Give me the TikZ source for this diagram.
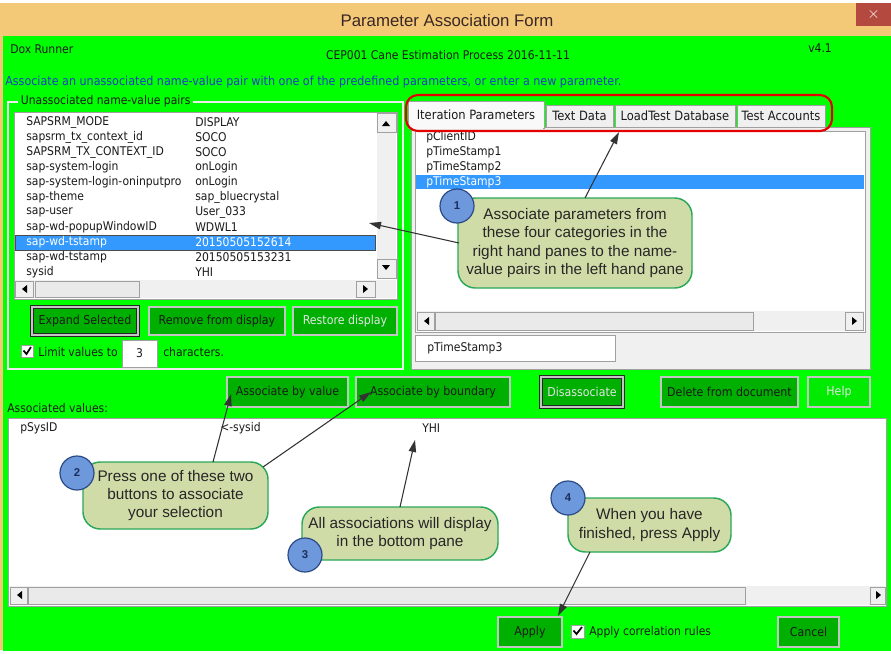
\documentclass[tikz,border=0pt]{standalone}
\usepackage{fontspec}
\setmainfont{Liberation Sans}
\newfontfamily\uif{DejaVu Sans Condensed}
\usetikzlibrary{arrows.meta}
\definecolor{titlebar}{HTML}{F3C977}
\definecolor{titletext}{HTML}{3A2626}
\definecolor{closered}{HTML}{B3493F}
\definecolor{formgreen}{HTML}{00FF00}
\definecolor{btngreen}{HTML}{00B000}
\definecolor{btnedge}{HTML}{C4C4C4}
\definecolor{uitext}{HTML}{1A1A1A}
\definecolor{infoblue}{HTML}{1E3CC8}
\definecolor{selblue}{HTML}{3399FF}
\definecolor{panelgray}{HTML}{F0F0F0}
\definecolor{edgegray}{HTML}{A0A0A0}
\definecolor{thumbgray}{HTML}{DCDCDC}
\definecolor{calloutfill}{HTML}{D0DCA8}
\definecolor{calloutedge}{HTML}{2BA85A}
\definecolor{numfill}{HTML}{6E98DC}
\definecolor{numedge}{HTML}{2C4A86}
\definecolor{numtext}{HTML}{1C2F5C}
\definecolor{disabledtext}{HTML}{E4E4E4}
\begin{document}
\begin{tikzpicture}[x=0.75pt,y=-0.75pt,
  wh/.style 2 args={minimum width={(#1)*0.75pt}, minimum height={(#2)*0.75pt}},
  ui/.style={font=\uif\fontsize{9}{11}\selectfont, text=uitext, inner sep=0pt, anchor=west},
  btn/.style={draw=btnedge, fill=btngreen, line width=1.1pt, inner sep=0pt,
    font=\uif\fontsize{9.2}{11}\selectfont, text=uitext},
  btnfocus/.style={btn, draw=black!85, double=btnedge, line width=0.7pt, double distance=0.9pt},
  dis/.style={text=disabledtext},
  tabbox/.style={draw=edgegray, fill=panelgray, line width=0.6pt, inner sep=0pt,
    font=\uif\fontsize{9.6}{11}\selectfont, text=uitext},
  whitebox/.style={draw=edgegray, fill=white, line width=0.6pt, inner sep=0pt},
  sbtrack/.style={fill=panelgray},
  sbbtn/.style={draw=edgegray, fill=panelgray, line width=0.5pt},
  sbthumb/.style={draw=edgegray, fill=thumbgray!60!white, line width=0.5pt},
  callout/.style={draw=calloutedge, fill=calloutfill, rounded corners=13pt, line width=1.1pt,
    inner sep=0pt, align=center, font=\fontsize{11.5}{13.75}\selectfont, text=black!85},
  num/.style={circle, draw=numedge, fill=numfill, line width=0.9pt, minimum size=25.5pt,
    inner sep=0pt, font=\fontsize{8.5}{9}\bfseries\selectfont, text=numtext},
  arr/.style={draw=black!80, line width=0.8pt, -{Triangle[length=9pt,width=5.5pt]}},
  chk/.style={draw=edgegray, fill=white, line width=0.6pt, inner sep=0pt}
]
\useasboundingbox (0,0) rectangle (891,653);
% window frame
\fill[white] (0,0) rectangle (891,653);
\fill[titlebar] (0,3) rectangle (891,650);
\fill[formgreen] (3,36) rectangle (891,651);
\node[font=\fontsize{12.6}{14}\selectfont, text=titletext] (title) at (447,20) {Parameter Association Form};
\node[fill=closered, wh={35}{23}, inner sep=0pt, text=white,
  font=\fontsize{12}{12}\bfseries\selectfont] (close) at (873.5,14.5) {$\times$};
% header
\node[ui] (dox) at (10,49) {Dox Runner};
\node[ui, anchor=center] (proc) at (448,55) {CEP001 Cane Estimation Process 2016-11-11};
\node[ui] (ver) at (808,48) {v4.1};
\node[ui, text=infoblue, font=\uif\fontsize{9.3}{11}\selectfont] (info) at (5,82) {Associate an unassociated name-value pair with one of the predefined parameters, or enter a new parameter.};
% group box left
\draw[white!85!gray, line width=1pt] (8,102) rectangle (403,369);
\node[ui, fill=formgreen, inner xsep=2pt] (grp) at (18,101) {Unassociated name-value pairs};
% left list
\node[whitebox, wh={383}{187}] (llist) at (205.5,205.5) {};
\fill[selblue] (15,235) rectangle (375,250);
\draw[black!70, line width=0.6pt] (15,235) rectangle (375,250);
\foreach \n/\v [count=\i from 0] in {SAPSRM\_MODE/DISPLAY, sapsrm\_tx\_context\_id/SOCO, SAPSRM\_TX\_CONTEXT\_ID/SOCO, sap-system-login/onLogin, sap-system-login-oninputpro/onLogin, sap-theme/sap\_bluecrystal, sap-user/User\_033, sap-wd-popupWindowID/WDWL1, sap-wd-tstamp/20150505152614, sap-wd-tstamp/20150505153231, sysid/YHI}{
  \ifnum\i=8
    \node[ui, text=white] (ln\i) at (26,{122+15*\i}) {\n};
    \node[ui, text=white] (lv\i) at (195,{122+15*\i}) {\v};
  \else
    \node[ui] (ln\i) at (26,{122+15*\i}) {\n};
    \node[ui] (lv\i) at (195,{122+15*\i}) {\v};
  \fi
}
% left list scrollbars
\fill[sbtrack] (377,113) rectangle (396,279);
\draw[sbbtn] (377,113) rectangle (396,132);
\fill[black] (382,126) -- (390,126) -- (386,121) -- cycle;
\draw[sbbtn] (377,259) rectangle (396,278);
\fill[black] (382,265) -- (390,265) -- (386,270) -- cycle;
\fill[sbtrack] (15,280) rectangle (396,298);
\draw[sbbtn] (15,281) rectangle (33,297);
\fill[black] (27,285) -- (27,293) -- (22,289) -- cycle;
\draw[sbthumb] (35,281) rectangle (139,297);
\draw[sbbtn] (356,281) rectangle (375,297);
\fill[black] (363,285) -- (363,293) -- (368,289) -- cycle;
% left buttons
\node[btnfocus, wh={106}{28}] (expand) at (85,321) {Expand Selected};
\node[btn, wh={136}{28}] (remove) at (217,321) {Remove from display};
\node[btn, dis, wh={104}{28}] (restore) at (345,321) {Restore display};
\node[chk, wh={12}{12}] (cb1) at (27,351) {};
\draw[black, line width=1.3pt] (23.5,350.5) -- (26.5,354) -- (31,347);
\node[ui] (limit) at (38,352) {Limit values to};
\node[whitebox, wh={35}{27}, font=\uif\fontsize{9}{11}\selectfont, text=uitext] (limval) at (139.5,353.5) {3};
\node[ui] (chars) at (163,352) {characters.};
% tab panel
\node[tabbox, wh={459}{242}] (panel) at (640.5,248) {};
\node[tabbox, wh={67}{22}] (tab2) at (579.5,116) {Text Data};
\node[tabbox, wh={120}{22}] (tab3) at (675,116) {LoadTest Database};
\node[tabbox, wh={88}{22}] (tab4) at (781,116) {Test Accounts};
\node[tabbox, fill=white!60!panelgray, wh={136}{27}] (tab1) at (476,114.5) {Iteration Parameters};
\fill[white!60!panelgray] (409,126) rectangle (543,129);
\node[whitebox, wh={450}{201}] (rlist) at (640,231.5) {};
\fill[selblue] (416,175) rectangle (864,189);
\foreach \n [count=\i from 0] in {pClientID, pTimeStamp1, pTimeStamp2}{
  \node[ui] (rn\i) at (426,{137+15*\i}) {\n};
}
\node[ui, text=white] (rn3) at (426,182) {pTimeStamp3};
\fill[sbtrack] (416,311) rectangle (864,331);
\draw[sbbtn] (417,312) rectangle (434,330);
\fill[black] (429,317) -- (429,325) -- (424,321) -- cycle;
\draw[sbthumb] (435,312) rectangle (753,330);
\draw[sbbtn] (845,312) rectangle (863,330);
\fill[black] (852,317) -- (852,325) -- (857,321) -- cycle;
\node[whitebox, wh={200}{26}] (ptbox) at (515,348) {};
\node[ui] (ptval) at (427,348) {pTimeStamp3};
% red highlight around tabs
\draw[red!90!black, line width=1.6pt, rounded corners=9pt] (406,95) rectangle (832,131);
% middle buttons
\node[btn, wh={121}{30}] (assocval) at (287.5,392) {Associate by value};
\node[btn, wh={154}{30}] (assocbnd) at (433,392) {Associate by boundary};
\node[btnfocus, dis, wh={82}{30}] (disassoc) at (582,392) {Disassociate};
\node[btn, wh={137}{30}] (delete) at (729.5,392) {Delete from document};
\node[btn, dis, fill=formgreen!92!black, wh={62}{30}] (help) at (839,392) {Help};
\node[ui] (assoclbl) at (7,408) {Associated values:};
% bottom list
\node[whitebox, wh={878}{188}] (blist) at (447,512) {};
\node[ui] (bn) at (20,428) {pSysID};
\node[ui] (bs) at (220,428) {<-sysid};
\node[ui] (bv) at (422,428) {YHI};
\fill[sbtrack] (9,586) rectangle (885,605);
\draw[sbbtn] (10,587) rectangle (27,604);
\fill[black] (22,591) -- (22,599) -- (17,595) -- cycle;
\draw[sbthumb] (28,587) rectangle (745,604);
\draw[sbbtn] (870,587) rectangle (885,604);
\fill[black] (876,591) -- (876,599) -- (881,595) -- cycle;
% bottom buttons
\node[btn, wh={64}{30}] (apply) at (530,632) {Apply};
\node[chk, wh={13}{13}] (cb2) at (577.5,631.5) {};
\draw[black, line width=1.3pt] (573.5,630.5) -- (576.5,634) -- (582,627);
\node[ui] (corr) at (589,632) {Apply correlation rules};
\node[btn, wh={61}{30}] (cancel) at (808.5,632) {Cancel};
% callouts
\node[callout, wh={234}{90}] (c1) at (575,243) {Associate parameters from\\these four categories in the\\right hand panes to the name-\\value pairs in the left hand pane};
\node[num] (n1) at (457,206) {1};
\node[callout, wh={185}{67}] (c2) at (175.5,495.5) {Press one of these two\\buttons to associate\\your selection};
\node[num] (n2) at (77,473) {2};
\node[callout, wh={196}{53}] (c3) at (400,533.5) {All associations will display\\in the bottom pane};
\node[num] (n3) at (305,555) {3};
\node[callout, wh={163}{54}] (c4) at (649.5,525) {When you have\\finished, press Apply};
\node[num] (n4) at (568,498) {4};
% arrow end points
\coordinate (c1top) at (585,198);
\coordinate (tabtip) at (619,132);
\coordinate (c1left) at (459,243);
\coordinate (listtip) at (369,223);
\coordinate (c2a) at (213,462);
\coordinate (valtip) at (231,394);
\coordinate (c2b) at (263,467);
\coordinate (bndtip) at (371,392);
\coordinate (c3top) at (400,507);
\coordinate (yhitip) at (415,440);
\coordinate (c4bot) at (590,552);
\coordinate (applytip) at (558,616);
\draw[arr] (c1top) -- (tabtip);
\draw[arr] (c1left) -- (listtip);
\draw[arr] (c2a) -- (valtip);
\draw[arr] (c2b) -- (bndtip);
\draw[arr] (c3top) -- (yhitip);
\draw[arr] (c4bot) -- (applytip);
\end{tikzpicture}
\end{document}
